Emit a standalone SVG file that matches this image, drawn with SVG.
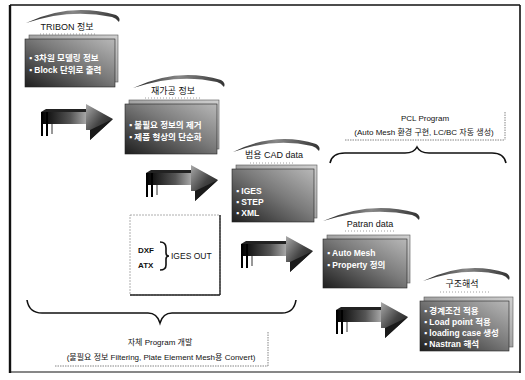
<svg xmlns="http://www.w3.org/2000/svg" width="525" height="380" viewBox="0 0 525 380">
<style>
  text { font-family: "Liberation Sans", "Noto Sans CJK KR", sans-serif; fill: #111; }
  .title { font-size: 9px; text-anchor: middle; }
  .ct { font-size: 8.5px; fill: #fff; font-weight: bold; }
  .lbl { font-size: 8px; text-anchor: middle; }
  .back { fill: url(#gBack); stroke: #555; stroke-width: 0.6; }
  .front { fill: url(#gCard); stroke: #222; stroke-width: 0.6; }
  .arc { fill: url(#gArc); }
  .dots { stroke: #888; stroke-width: 0.8; stroke-dasharray: 1 2; fill: none; }
  .brace { fill: none; stroke: #111; stroke-width: 1.6; }
  .frame { stroke: #111; fill: none; }
</style>
<defs>
  <linearGradient id="gCard" x1="1" y1="0" x2="0" y2="1">
    <stop offset="0" stop-color="#b8b8b8"/>
    <stop offset="0.45" stop-color="#7a7a7a"/>
    <stop offset="1" stop-color="#1e1e1e"/>
  </linearGradient>
  <linearGradient id="gBack" x1="1" y1="0" x2="0" y2="1">
    <stop offset="0" stop-color="#d0d0d0"/>
    <stop offset="1" stop-color="#777"/>
  </linearGradient>
  <linearGradient id="gArc" x1="0" y1="0" x2="1" y2="0">
    <stop offset="0" stop-color="#222"/>
    <stop offset="0.5" stop-color="#888"/>
    <stop offset="1" stop-color="#333"/>
  </linearGradient>
  <linearGradient id="gShaft" x1="0" y1="0" x2="1" y2="0">
    <stop offset="0" stop-color="#000"/>
    <stop offset="0.6" stop-color="#555"/>
    <stop offset="1" stop-color="#bbb"/>
  </linearGradient>
  <linearGradient id="gHead" x1="0" y1="0" x2="1" y2="1">
    <stop offset="0" stop-color="#aaa"/>
    <stop offset="0.5" stop-color="#444"/>
    <stop offset="1" stop-color="#111"/>
  </linearGradient>
  <g id="arrow">
    <polygon points="3,8 52,8 52,20 3,20" fill="url(#gShaft)"/>
    <polygon points="3,8 8,5 52,5 52,8" fill="#222"/>
    <line x1="4" y1="8" x2="4" y2="32" stroke="#000" stroke-width="2"/>
    <line x1="9" y1="8" x2="9" y2="32" stroke="#000" stroke-width="2"/>
    <line x1="14" y1="20" x2="14" y2="30" stroke="#333" stroke-width="1"/>
    <polygon points="48,0 75,15 52,36 52,26 48,26" fill="url(#gHead)"/>
    <polygon points="52,26 75,15 52,36" fill="#1a1a1a"/>
  </g>
</defs>

<g id="frame">
  <line class="frame" x1="10" y1="5" x2="520" y2="5" stroke-width="1.6"/>
  <line class="frame" x1="10" y1="5" x2="10" y2="373" stroke-width="2.4"/>
  <line class="frame" x1="520" y1="5" x2="520" y2="373" stroke-width="1.6"/>
  <line class="frame" x1="10" y1="372" x2="520" y2="372" stroke-width="1.2"/>
</g>

<g id="connectors">
  <use href="#arrow" x="38" y="104"/>
  <use href="#arrow" x="143" y="165"/>
  <use href="#arrow" x="238" y="236"/>
  <use href="#arrow" x="333" y="302"/>
</g>

<g id="tribon">
  <path class="arc" d="M26,23 Q70,2 116,15 Q121,18 119,22 Q116,18 112,17 Q70,8 26,23 Z"/>
  <text class="title" x="67" y="30">TRIBON 정보</text>
  <line class="dots" x1="40" y1="34" x2="95" y2="34"/>
  <rect class="back" x="29" y="35" width="89" height="47"/>
  <rect class="front" x="25" y="39" width="90" height="48"/>
  <text class="ct" x="29" y="61">▪ 3차원 모델링 정보</text>
  <text class="ct" x="29" y="73">▪ Block 단위로 출력</text>
</g>

<g id="rework">
  <path class="arc" d="M133,88 Q178,67 221,80 Q226,83 224,87 Q221,83 217,82 Q178,73 133,88 Z"/>
  <text class="title" x="173" y="94">재가공 정보</text>
  <line class="dots" x1="145" y1="98" x2="200" y2="98"/>
  <rect class="back" x="129" y="100" width="90" height="49"/>
  <rect class="front" x="125" y="104" width="92" height="50"/>
  <text class="ct" x="129" y="128">▪ 불필요 정보의 제거</text>
  <text class="ct" x="129" y="140">▪ 제품 형상의 단순화</text>
</g>

<g id="cad">
  <path class="arc" d="M233,152 Q275,131 316,144 Q321,147 319,151 Q316,147 312,146 Q275,137 233,152 Z"/>
  <text class="title" x="274" y="158">범용 CAD data</text>
  <line class="dots" x1="250" y1="163" x2="295" y2="163"/>
  <rect class="back" x="236" y="165" width="81" height="53"/>
  <rect class="front" x="232" y="169" width="82" height="53"/>
  <text class="ct" x="236" y="194">▪ IGES</text>
  <text class="ct" x="236" y="205">▪ STEP</text>
  <text class="ct" x="236" y="216">▪ XML</text>
</g>

<g id="iges">
  <rect x="130" y="215" width="90" height="80" fill="#fff" stroke="#999" stroke-width="0.8" stroke-dasharray="2 1"/>
  <line x1="220" y1="215" x2="220" y2="295" stroke="#222" stroke-width="1.4"/>
  <line x1="130" y1="295" x2="220" y2="295" stroke="#222" stroke-width="1.4"/>
  <text x="138" y="253" font-size="8px" font-weight="bold">DXF</text>
  <text x="138" y="268" font-size="8px" font-weight="bold">ATX</text>
  <path class="brace" stroke-width="1.2" d="M160,242 Q166,242 166,248 L166,253 Q166,256 169,256 Q166,256 166,259 L166,265 Q166,270 160,270"/>
  <text x="171" y="259" font-size="8.5px">IGES OUT</text>
</g>

<g id="pcl">
  <text class="lbl" x="425" y="121">PCL Program</text>
  <text class="lbl" x="424" y="135">(Auto Mesh 환경 구현, LC/BC 자동 생성)</text>
  <line x1="345" y1="140" x2="505" y2="140" stroke="#666" stroke-width="0.8" stroke-dasharray="1.5 1"/>
  <line x1="505" y1="112" x2="505" y2="140" stroke="#666" stroke-width="0.8" stroke-dasharray="1.5 1"/>
  <path class="brace" d="M330,163 Q332,153 345,153 L405,153 Q414,153 417,147 Q420,153 429,153 L492,153 Q504,153 506,163"/>
</g>

<g id="patran">
  <path class="arc" d="M323,221 Q370,200 416,213 Q421,216 419,220 Q416,216 412,215 Q370,206 323,221 Z"/>
  <text class="title" x="370" y="227">Patran data</text>
  <line class="dots" x1="345" y1="231" x2="395" y2="231"/>
  <rect class="back" x="327" y="235" width="83" height="48"/>
  <rect class="front" x="323" y="239" width="84" height="49"/>
  <text class="ct" x="327" y="256">▪ Auto Mesh</text>
  <text class="ct" x="327" y="268">▪ Property 정의</text>
</g>

<g id="analysis">
  <path class="arc" d="M423,281 Q466,260 506,273 Q511,276 509,280 Q506,276 502,275 Q466,266 423,281 Z"/>
  <text class="title" x="462" y="287">구조해석</text>
  <line class="dots" x1="440" y1="292" x2="490" y2="292"/>
  <rect class="back" x="424" y="297" width="89" height="50"/>
  <rect class="front" x="420" y="301" width="89" height="50"/>
  <text class="ct" x="424" y="314">▪ 경계조건 적용</text>
  <text class="ct" x="424" y="325">▪ Load point 적용</text>
  <text class="ct" x="424" y="336">▪ loading case 생성</text>
  <text class="ct" x="424" y="347">▪ Nastran 해석</text>
</g>

<g id="selfprog">
  <path class="brace" d="M27,300 Q29,313 42,313 L148,313 Q157,313 160,323 Q163,313 172,313 L282,313 Q294,313 296,300"/>
  <line x1="268" y1="332" x2="268" y2="366" stroke="#666" stroke-width="0.8" stroke-dasharray="1.5 1"/>
  <line x1="55" y1="366" x2="268" y2="366" stroke="#666" stroke-width="0.8" stroke-dasharray="1.5 1"/>
  <text class="lbl" x="160" y="345">자체 Program 개발</text>
  <text class="lbl" x="161" y="360">(불필요 정보 Filtering, Plate Element Mesh용 Convert)</text>
</g>
</svg>
